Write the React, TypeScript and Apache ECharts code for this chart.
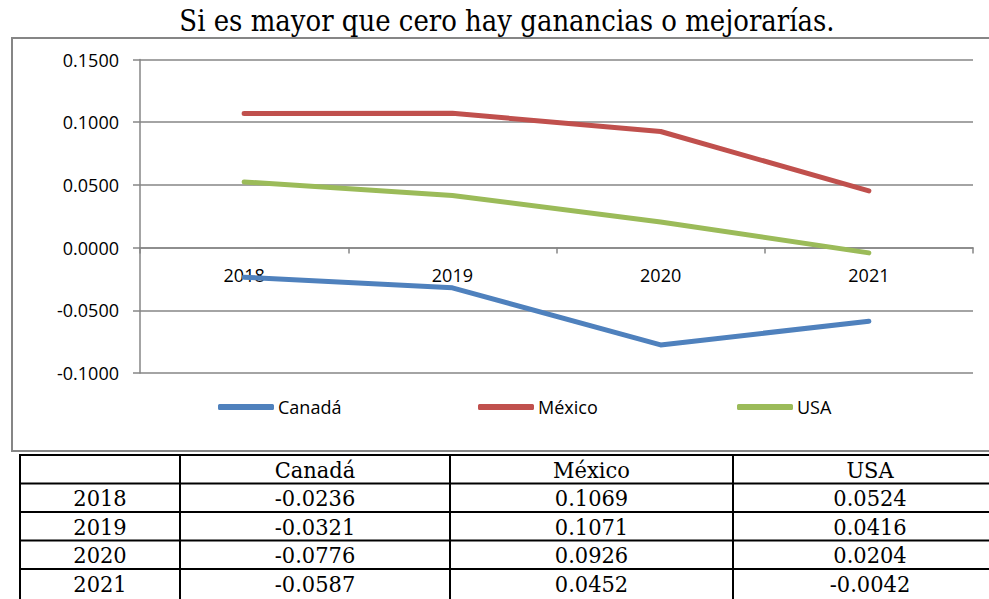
import React, { useEffect, useRef } from "react";
import * as echarts from "echarts";

const title = "Si es mayor que cero hay ganancias o mejorarías.";
const years = ["2018", "2019", "2020", "2021"];
const seriesNames = ["Canadá", "México", "USA"];
const canada = [-0.0236, -0.0321, -0.0776, -0.0587];
const mexico = [0.1069, 0.1071, 0.0926, 0.0452];
const usa = [0.0524, 0.0416, 0.0204, -0.0042];
const colors = ["#4F81BD", "#C0504D", "#9BBB59"];
const yTicks = { min: -0.1, max: 0.15, interval: 0.05 };

export default function App() {
  const ref = useRef<HTMLDivElement>(null);
  useEffect(() => {
    if (!ref.current) return;
    const chart = echarts.init(ref.current, null, { renderer: "svg" });
    const values = [canada, mexico, usa];
    const sansFont = "'Open Sans', 'Liberation Sans', sans-serif";
    const serifFont = "'DejaVu Serif', serif";

    // table geometry
    const colX = [20, 180, 450, 733, 1007];
    const rowY = [455, 483.5, 512, 540.5, 569, 598];
    const tableEls: any[] = [];
    colX.forEach((x) =>
      tableEls.push({ type: "line", shape: { x1: x, y1: rowY[0] - 1, x2: x, y2: 600 }, style: { stroke: "#000", lineWidth: 2 } })
    );
    rowY.slice(0, 5).forEach((y) =>
      tableEls.push({ type: "line", shape: { x1: colX[0] - 1, y1: y, x2: 1010, y2: y }, style: { stroke: "#000", lineWidth: 2 } })
    );
    const cellText = (txt: string, c: number, r: number) => ({
      type: "text",
      x: (colX[c] + colX[c + 1]) / 2,
      y: (rowY[r] + rowY[r + 1]) / 2 + 1,
      scaleY: 1.05,
      style: { text: txt, fill: "#000", font: `21px ${serifFont}`, align: "center", verticalAlign: "middle" },
    });
    seriesNames.forEach((n, i) => tableEls.push(cellText(n, i + 1, 0)));
    years.forEach((y, r) => {
      tableEls.push(cellText(y, 0, r + 1));
      values.forEach((vals, c) => tableEls.push(cellText(vals[r].toFixed(4), c + 1, r + 1)));
    });

    const legendLefts = [218, 478, 737];

    chart.setOption({
      animation: false,
      backgroundColor: "#fff",
      grid: { left: 140, right: 16, top: 59.5, bottom: 226, containLabel: false },
      xAxis: {
        type: "category",
        data: years,
        boundaryGap: true,
        axisLine: { onZero: true, lineStyle: { color: "#868686", width: 1.5 } },
        axisTick: { show: true, length: 6, lineStyle: { color: "#868686", width: 1.5 } },
        axisLabel: { color: "#000", fontSize: 18, fontFamily: sansFont, margin: -107 },
        splitLine: { show: false },
        z: 1,
      },
      yAxis: {
        type: "value",
        min: yTicks.min,
        max: yTicks.max,
        interval: yTicks.interval,
        axisLine: { show: true, lineStyle: { color: "#868686", width: 1.5 } },
        axisTick: { show: true, length: 7, lineStyle: { color: "#868686", width: 1.5 } },
        axisLabel: { color: "#000", fontSize: 18, fontFamily: sansFont, margin: 21, formatter: (v: number) => v.toFixed(4) },
        splitLine: { show: true, lineStyle: { color: "#868686", width: 1.5 } },
      },
      legend: seriesNames.map((n, i) => ({
        data: [{ name: n, icon: "roundRect" }],
        left: legendLefts[i],
        top: 398,
        itemWidth: 56,
        itemHeight: 6,
        itemGap: 0,
        textStyle: { color: "#000", fontSize: 18, fontFamily: sansFont, padding: [0, 0, 0, -1] },
        padding: 0,
      })),
      series: seriesNames.map((n, i) => ({
        name: n,
        type: "line",
        data: values[i],
        symbol: "none",
        showSymbol: false,
        z: 3,
        lineStyle: { color: colors[i], width: 5, cap: "round", join: "round" },
        itemStyle: { color: colors[i] },
      })),
      graphic: [
        {
          type: "text",
          x: 507,
          y: 21,
          scaleY: 1.15,
          style: { text: title, fill: "#000", font: `26px ${serifFont}`, align: "center", verticalAlign: "middle" },
        },
        {
          type: "rect",
          shape: { x: 12, y: 38, width: 1000, height: 413 },
          style: { fill: "none", stroke: "#868686", lineWidth: 2 },
          silent: true,
        },
        ...tableEls,
      ],
    });
    return () => chart.dispose();
  }, []);
  return <div ref={ref} style={{ position: "absolute", left: 0, top: 0, width: 989, height: 599 }} />;
}
